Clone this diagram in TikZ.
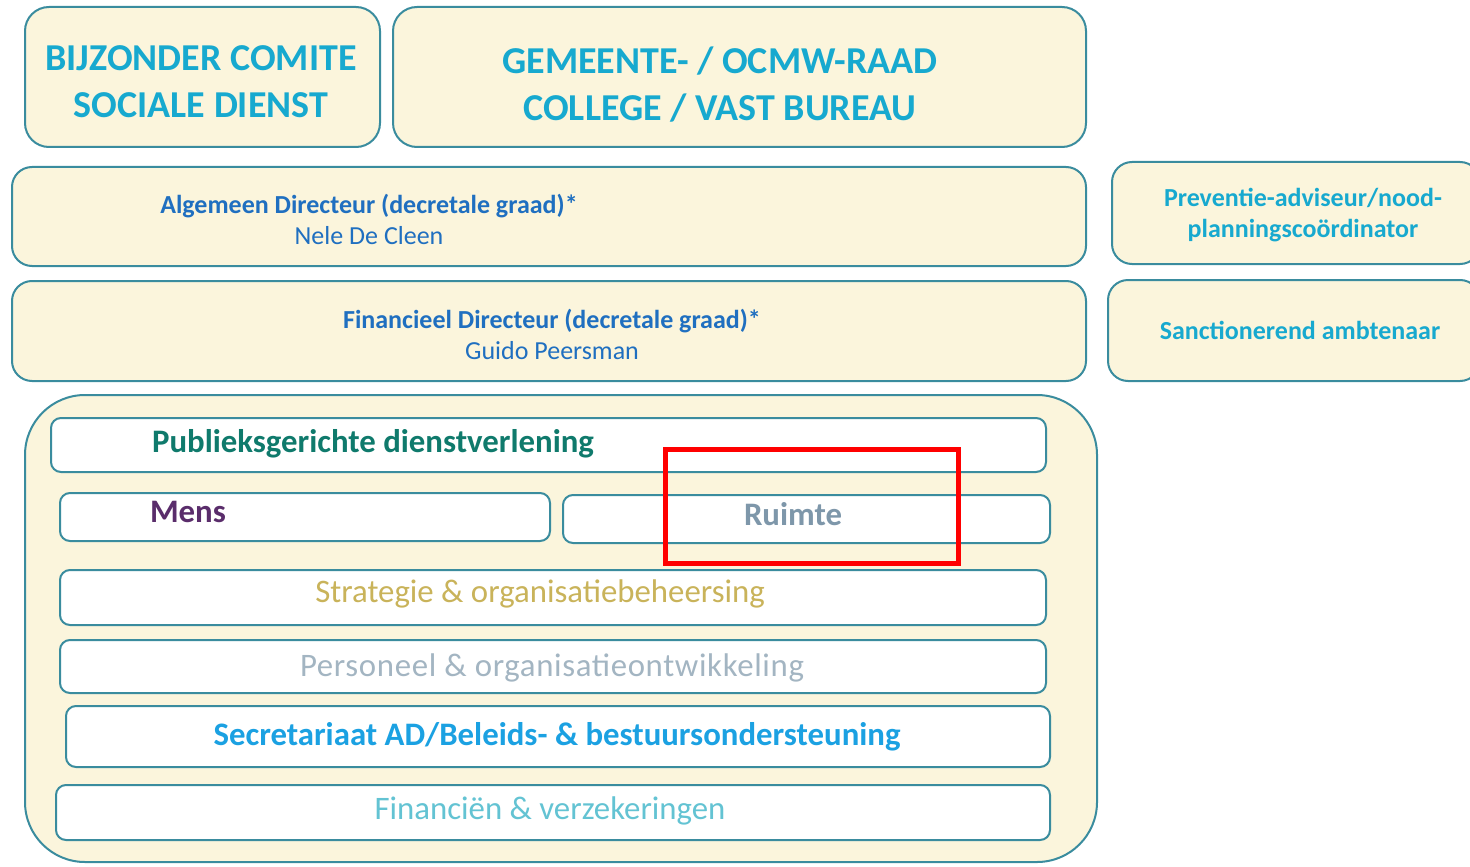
\documentclass[tikz,border=0pt]{standalone}
\usepackage{fontspec}
\setmainfont{Carlito}
\usepackage{xcolor}
\definecolor{org-cream}{HTML}{FBF5DC}
\definecolor{org-line}{HTML}{3A8C9E}
\definecolor{org-cyan}{HTML}{17A9CF}
\definecolor{org-blue}{HTML}{1F6FC0}
\definecolor{org-teal}{HTML}{0F7A6C}
\definecolor{org-purple}{HTML}{5A2D6B}
\definecolor{org-grey}{HTML}{7E97AA}
\definecolor{org-gold}{HTML}{C9B35A}
\definecolor{org-pale}{HTML}{A3B5C2}
\definecolor{org-sky}{HTML}{1BA1E2}
\definecolor{org-aqua}{HTML}{63C3D3}
\tikzset{every text node part/.style={align=center}}
\tikzstyle{panel} = [draw=org-line, fill=org-cream, line width=1pt, rounded corners=12pt, inner sep=0pt]
\tikzstyle{unit} = [draw=org-line, fill=white, line width=1pt, rounded corners=5pt, inner sep=0pt]
\tikzstyle{lbl} = [inner sep=0pt]
\tikzstyle{big} = [lbl, font={\fontsize{19}{23.5}\selectfont\bfseries}, text=org-cyan]
\tikzstyle{small} = [lbl, font={\fontsize{13}{15.5}\selectfont}]
\tikzstyle{dept} = [lbl, font={\fontsize{16.4}{18}\selectfont}]

\begin{document}
\begin{tikzpicture}[x=0.5pt, y=-0.5pt]
  \useasboundingbox (0,0) rectangle (1470,866);
  % bestuursorganen
  \node[panel, minimum width=177.5pt, minimum height=70pt] (bcsd) at (202.5,77) {};
  \node[panel, minimum width=346.5pt, minimum height=70pt] (raad) at (739.5,77) {};
  \node[big] (bcsdt) at (201,82) {BIJZONDER COMITE\\SOCIALE DIENST};
  \node[big] (raadt) at (720,85) {GEMEENTE- / OCMW-RAAD\\COLLEGE / VAST BUREAU};
  % decretale graden
  \node[panel, rounded corners=10pt, minimum width=537pt, minimum height=49.5pt] (ad) at (549,216.5) {};
  \node[panel, rounded corners=10pt, minimum width=537pt, minimum height=50pt] (fd) at (549,331) {};
  \node[small, text=org-blue] (adt) at (369,219) {\textbf{Algemeen Directeur (decretale graad)*}\\Nele De Cleen};
  \node[small, text=org-blue] (fdt) at (552,334) {\textbf{Financieel Directeur (decretale graad)*}\\Guido Peersman};
  \node[panel, rounded corners=10pt, minimum width=184pt, minimum height=51pt] (prev) at (1296,213) {};
  \node[panel, rounded corners=10pt, minimum width=186pt, minimum height=50.5pt] (sanc) at (1294,330.5) {};
  \node[small, font={\fontsize{13}{15.5}\selectfont\bfseries}, text=org-cyan] (prevt) at (1303,215) {Preventie-adviseur/nood-\\planningscoördinator};
  \node[small, font={\fontsize{13}{15.5}\selectfont\bfseries}, text=org-cyan] (sanct) at (1300,330) {Sanctionerend ambtenaar};
  % clusters
  \node[panel, rounded corners=30pt, minimum width=536pt, minimum height=233.5pt] (mt) at (561,628.5) {};
  \node[unit, minimum width=497.5pt, minimum height=27pt] (pub) at (548.5,445) {};
  \node[unit, minimum width=245pt, minimum height=24pt] (mens) at (305,517) {};
  \node[unit, minimum width=243.5pt, minimum height=24pt] (ruimte) at (806.5,519) {};
  \node[unit, minimum width=493pt, minimum height=27.5pt] (strat) at (553,597.5) {};
  \node[unit, minimum width=493pt, minimum height=26.5pt] (pers) at (553,666.5) {};
  \node[unit, minimum width=492pt, minimum height=30.5pt] (secr) at (558,736.5) {};
  \node[unit, minimum width=497pt, minimum height=27.5pt] (fin) at (553,812.5) {};
  \node[dept, font={\fontsize{16.4}{18}\selectfont\bfseries}, text=org-teal] (pubt) at (373,444) {Publieksgerichte dienstverlening};
  \node[dept, font={\fontsize{16.4}{18}\selectfont\bfseries}, text=org-purple] (menst) at (188,512) {Mens};
  \node[dept, font={\fontsize{16.4}{18}\selectfont\bfseries}, text=org-grey] (ruimtet) at (793,514) {Ruimte};
  \node[dept, text=org-gold] (stratt) at (540,594) {Strategie \& organisatiebeheersing};
  \node[dept, font={\fontsize{16.4}{18}\selectfont\addfontfeatures{LetterSpace=2}}, text=org-pale] (perst) at (552,668) {Personeel \& organisatieontwikkeling};
  \node[dept, font={\fontsize{16.4}{18}\selectfont\bfseries}, text=org-sky] (secrt) at (557,737) {Secretariaat AD/Beleids- \& bestuursondersteuning};
  \node[dept, text=org-aqua] (fint) at (550,811) {Financiën \& verzekeringen};
  % markering
  \node[draw=red, line width=2.5pt, minimum width=146.5pt, minimum height=57pt, inner sep=0pt] (focus) at (811.5,506) {};
\end{tikzpicture}
\end{document}
